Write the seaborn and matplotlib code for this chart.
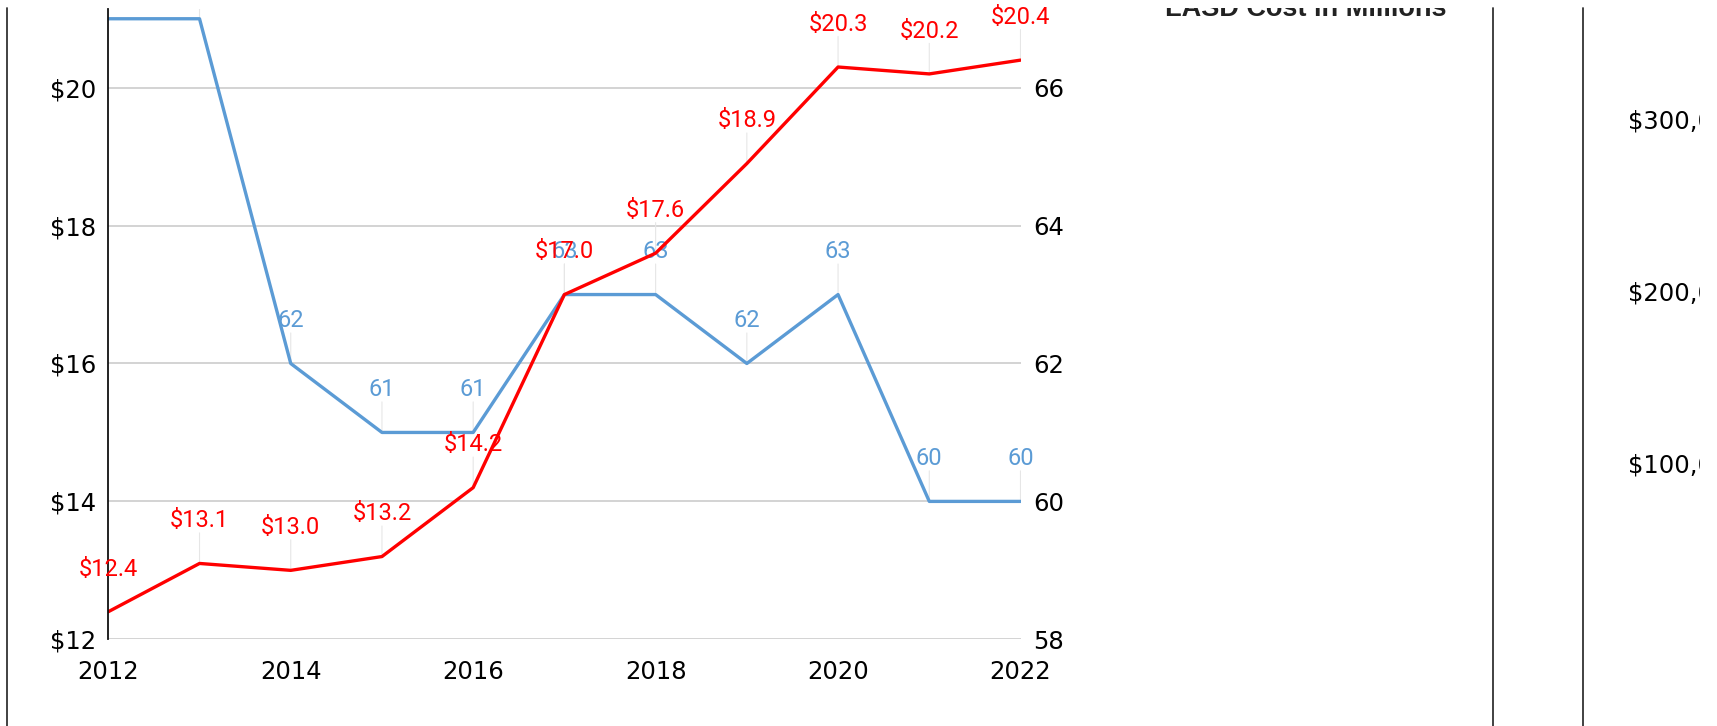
import matplotlib
matplotlib.use('Agg')
import matplotlib.pyplot as plt
import seaborn as sns
import pandas as pd
from matplotlib.lines import Line2D

# values
years = [2012, 2013, 2014, 2015, 2016, 2017, 2018, 2019, 2020, 2021, 2022]
cost_millions = [12.4, 13.1, 13.0, 13.2, 14.2, 17.0, 17.6, 18.9, 20.3, 20.2, 20.4]
other_metric = [67, 67, 62, 61, 61, 63, 63, 62, 63, 60, 60]

year_ticks = [2012, 2014, 2016, 2018, 2020, 2022]
cost_ticks = [12, 14, 16, 18, 20]
other_ticks = [58, 60, 62, 64, 66]
side_ticks = [300000, 200000, 100000]  # neighbouring chart, cut off

RED = '#ff0000'
BLUE = '#5b9bd5'

sns.set_theme(style='white')
plt.rcParams['font.family'] = ['DejaVu Sans']

W, H = 1717, 726
fig = plt.figure(figsize=(W / 100, H / 100), dpi=100)

left, right, bottom, top = 108.3, 1020.5, 639.3, 9
ax = fig.add_axes([left / W, 1 - bottom / H, (right - left) / W, (bottom - top) / H])
ax2 = ax.twinx()

df = pd.DataFrame({'year': years, 'cost': cost_millions, 'other': other_metric})
sns.lineplot(data=df, x='year', y='other', ax=ax, color=BLUE, linewidth=2.4)
sns.lineplot(data=df, x='year', y='cost', ax=ax2, color=RED, linewidth=2.4)

span = (bottom - top) / 68.95
ax.set_xlim(2012, 2022)
ax.set_ylim(58, 58 + span)
ax2.set_ylim(12, 12 + span)

ax.yaxis.tick_right()
ax2.yaxis.tick_left()
ax.set_xticks(year_ticks)
ax.set_yticks(other_ticks)
ax2.set_yticks(cost_ticks)
ax2.set_yticklabels([f'${v}' for v in cost_ticks])
ax.set_xlabel('')
ax.set_ylabel('')
ax2.set_ylabel('')

ax.grid(axis='y', color='#c8c8c8', linewidth=1.1)
ax.grid(axis='x', visible=False)
ax2.grid(False)
for s in ax.spines.values():
    s.set_visible(False)
for name, s in ax2.spines.items():
    s.set_visible(name == 'left')
ax2.spines['left'].set_color('#111111')
ax2.spines['left'].set_linewidth(1.3)

ax.tick_params(axis='x', length=0, pad=15, labelsize=17.5, labelcolor='black')
ax.tick_params(axis='y', length=0, pad=9, labelsize=17.5, labelcolor='black')
ax2.tick_params(axis='y', length=0, pad=9, labelsize=17.5, labelcolor='black')


def label_points(axis, xs, ys, texts, color):
    for x, y, t in zip(xs, ys, texts):
        lead = axis.annotate('', xy=(x, y), xytext=(0, 22), textcoords='offset points',
                             arrowprops=dict(arrowstyle='-', color='#e6e6e6', lw=0.8,
                                             shrinkA=0, shrinkB=0), zorder=1.6)
        lead.arrow_patch.set_clip_box(axis.bbox)
        lead.arrow_patch.set_clip_on(True)
        axis.annotate(t, xy=(x, y), xytext=(0, 26), textcoords='offset points',
                      ha='center', va='baseline', color=color, fontsize=17,
                      family=['Roboto', 'DejaVu Sans'], zorder=4)


label_points(ax, years, other_metric, [str(v) for v in other_metric], BLUE)
label_points(ax2, years, cost_millions, [f'${v:.1f}' for v in cost_millions], RED)

# title of the next panel, cut off by its container above y=7px
clip_top = 7.5
title_ax = fig.add_axes([0, 0, 1, 1 - clip_top / H])
title_ax.axis('off')
title_ax.text(1165 / W, (1 - 16 / H) / (1 - clip_top / H), 'LASD Cost in Millions',
              transform=title_ax.transAxes, fontsize=19.5, fontweight='bold',
              family=['Liberation Sans', 'DejaVu Sans'], color='#222222',
              ha='left', va='baseline', clip_on=True)

# panel borders
for xpx in [7.3, 1492.7, 1583.3]:
    fig.add_artist(Line2D([xpx / W, xpx / W], [0, 1 - 8 / H], transform=fig.transFigure,
                          color='#333333', linewidth=1.3))

# tick labels of a chart further right, clipped
side = fig.add_axes([1600 / W, 0, 100 / W, 1])
side.axis('off')
for v, ypx in zip(side_ticks, [122, 293, 465]):
    side.text(0.28, 1 - ypx / H, f'${v:,}', transform=side.transAxes, fontsize=17.5,
              ha='left', va='center', color='black', clip_on=True)

fig.savefig('out.png', dpi=100)
